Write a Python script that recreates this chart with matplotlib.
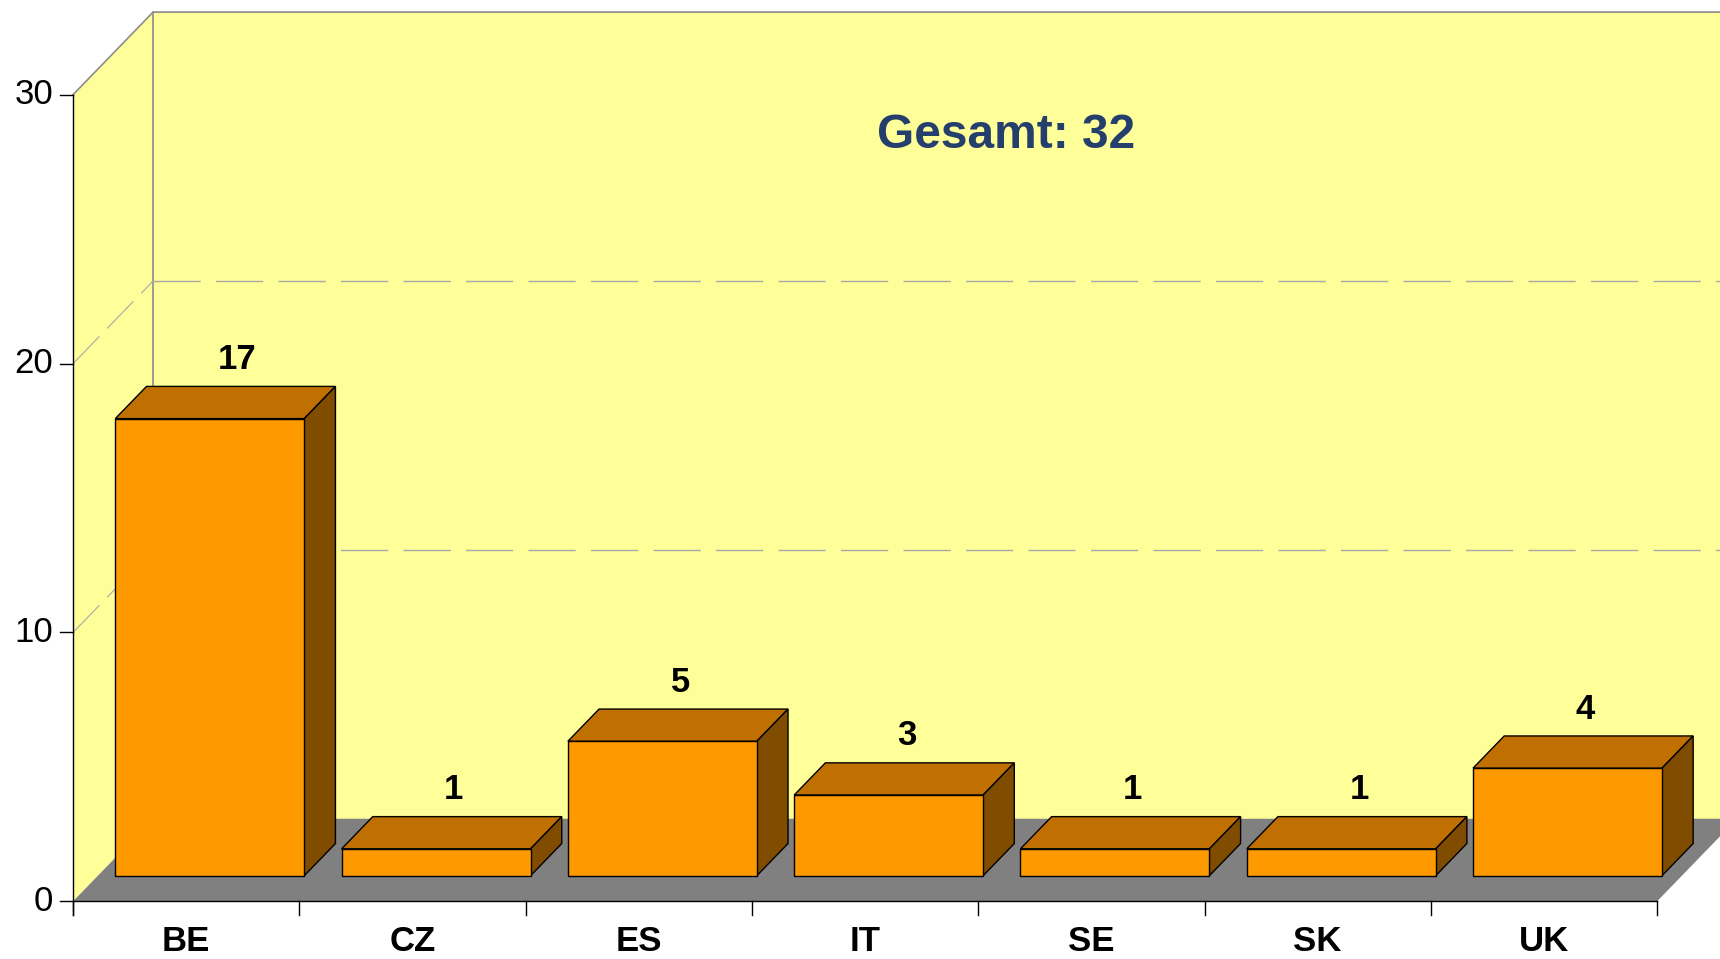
import matplotlib.pyplot as plt
from matplotlib.patches import Polygon

# data
categories = ['BE', 'CZ', 'ES', 'IT', 'SE', 'SK', 'UK']
values = [17, 1, 5, 3, 1, 1, 4]
y_ticks = [0, 10, 20, 30]
title = 'Gesamt: %d' % sum(values)

plt.rcParams['font.family'] = ['Liberation Sans', 'DejaVu Sans']

# fake 3d: depth z in [0, 1] shifts a point right by DX and up by DY (data units)
DX = 0.3535
DY = 3.07
z_front, z_back = 0.31, 0.70      # bar depth range
bar_left, bar_right = 0.077, 0.912  # bar extent inside its category slot
n = len(categories)
y_max = y_ticks[-1]

wall = '#FFFF99'
edge_grey = '#8C8C8C'


def proj(x, y, z):
    return (x + z * DX, y + z * DY)


def face(ax, pts, color, lw=1.0, ec='black', zorder=3):
    ax.add_patch(Polygon([proj(*p) for p in pts], closed=True, facecolor=color,
                         edgecolor=ec, linewidth=lw, zorder=zorder, joinstyle='miter'))


fig = plt.figure(figsize=(17.2, 9.59), dpi=100)
ax = fig.add_axes([0, 0, 1, 1])
ax.set_xlim(-0.323, 7.278)
ax.set_ylim(-2.146, 33.52)
ax.axis('off')

# back wall, left wall and floor
face(ax, [(0, 0, 1), (n + 1, 0, 1), (n + 1, y_max, 1), (0, y_max, 1)], wall, lw=0, ec='none', zorder=1)
face(ax, [(0, 0, 0), (0, 0, 1), (0, y_max, 1), (0, y_max, 0)], wall, lw=0, ec='none', zorder=1)
face(ax, [(0, 0, 0), (n, 0, 0), (n, 0, 1), (0, 0, 1)], '#808080', lw=0, ec='none', zorder=1)

# wall edges
ax.plot(*zip(proj(0, y_max, 0), proj(0, y_max, 1), proj(n + 1, y_max, 1)), color=edge_grey, lw=1.2, zorder=2)
ax.plot(*zip(proj(0, 0, 1), proj(0, y_max, 1)), color=edge_grey, lw=1.2, zorder=2)

# dashed gridlines on both walls
for t in y_ticks[1:-1]:
    ax.plot(*zip(proj(0, t, 1), proj(n + 1, t, 1)), color='#A8A8A8', lw=1.0,
            dashes=(34, 11), zorder=2)
    ax.plot(*zip(proj(0, t, 0), proj(0, t, 1)), color='#A8A8A8', lw=0.8,
            dashes=(34, 10), zorder=2)

# axes lines and ticks
ax.plot([0, 0], [-0.5, y_max], color='black', lw=1.0, zorder=4)
ax.plot([0, n], [0, 0], color='black', lw=1.0, zorder=4)
for t in y_ticks:
    ax.plot([-0.057, 0], [t, t], color='black', lw=1.0, zorder=4)
    ax.text(-0.088, t, str(t), ha='right', va='center', fontsize=25, zorder=5)
for i in range(n + 1):
    ax.plot([i, i], [0, -0.5], color='black', lw=1.0, zorder=4)

# bars
for i, (cat, v) in enumerate(zip(categories, values)):
    x0, x1 = i + bar_left, i + bar_right
    face(ax, [(x0, v, z_front), (x1, v, z_front), (x1, v, z_back), (x0, v, z_back)], '#BF7000')
    face(ax, [(x1, 0, z_front), (x1, 0, z_back), (x1, v, z_back), (x1, v, z_front)], '#804C00')
    face(ax, [(x0, 0, z_front), (x1, 0, z_front), (x1, v, z_front), (x0, v, z_front)], '#FF9900')
    ax.text(i + 0.64, v + z_back * DY + 1.0, str(v), ha='left', va='center',
            fontsize=25, fontweight='bold', zorder=6)
    ax.text(i + 0.5, -1.85, cat, ha='center', va='baseline', fontsize=25,
            fontweight='bold', zorder=6)

fig.text(0.585, 0.859, title, ha='center', va='center', fontsize=34.5,
         fontweight='bold', color='#243F6B')

fig.savefig('out.png', dpi=100, facecolor='white')
